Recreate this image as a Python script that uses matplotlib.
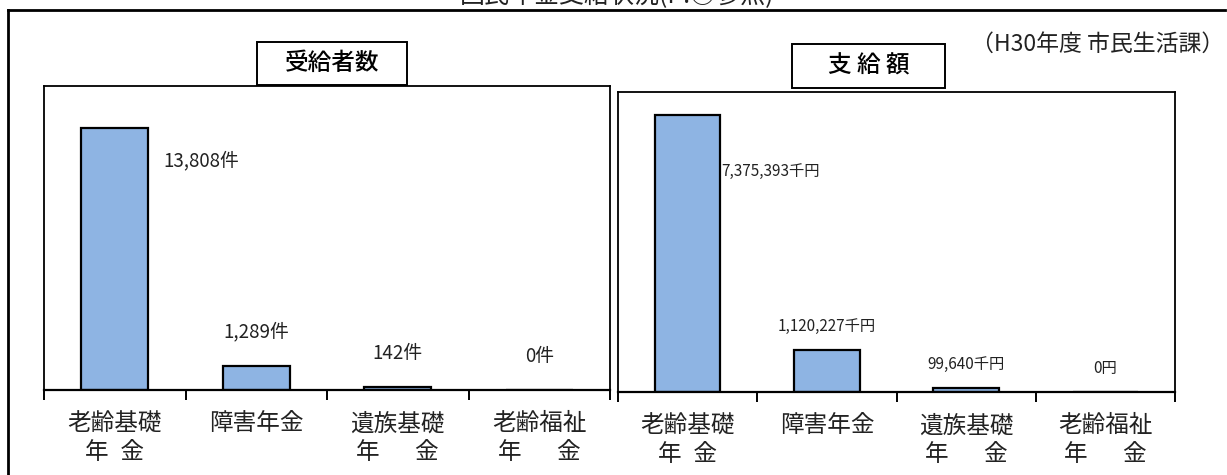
import matplotlib
matplotlib.use("Agg")
import matplotlib.pyplot as plt
from matplotlib.patches import Rectangle
from matplotlib.lines import Line2D

plt.rcParams['font.family'] = ['Noto Sans CJK JP', 'DejaVu Sans']

categories = ["老齢基礎\n年\u2002金", "障害年金", "遺族基礎\n年　\u2002金", "老齢福祉\n年　\u2002金"]
recipients = [13808, 1289, 142, 0]
recipient_labels = ["13,808件", "1,289件", "142件", "0件"]
amounts = [7375393, 1120227, 99640, 0]
amount_labels = ["7,375,393千円", "1,120,227千円", "99,640千円", "0円"]

W, H = 1227, 475
fig = plt.figure(figsize=(W / 100, H / 100), dpi=100)

def box(x0, y0, x1, y1):
    return [x0 / W, 1 - y1 / H, (x1 - x0) / W, (y1 - y0) / H]

bar_color = "#8EB4E3"

def setup(ax, vals, ymax):
    xs = [i + 0.5 for i in range(len(vals))]
    bars = ax.bar(xs, vals, width=0.47, color=bar_color, edgecolor="black", linewidth=1.6)
    ax.set_xlim(0, len(vals))
    ax.set_ylim(0, ymax)
    ax.set_yticks([])
    ax.set_xticks([0, 1, 2, 3, 4])
    ax.set_xticklabels([])
    ax.set_xticks(xs, minor=True)
    ax.set_xticklabels(categories, minor=True, fontsize=17, linespacing=1.3, color="#222222")
    ax.tick_params(axis='x', which='major', direction='out', length=7, width=1.4, color='black')
    ax.tick_params(axis='x', which='minor', length=0, pad=16)
    for s in ['left', 'top', 'right']:
        ax.spines[s].set_linewidth(1.3)
        ax.spines[s].set_color('black')
    ax.spines['bottom'].set_linewidth(1.6)
    return xs, bars

# Left chart
ax1 = fig.add_axes(box(44, 86, 610, 390))
xs1, _ = setup(ax1, recipients, 16000)
ax1.annotate(recipient_labels[0], xy=(xs1[0] + 0.235, recipients[0]), xytext=(11, -24),
             textcoords='offset points', ha='left', va='center', fontsize=13.5, color='#222222')
for i in range(1, 4):
    ax1.annotate(recipient_labels[i], xy=(xs1[i], recipients[i]), xytext=(0, 24),
                 textcoords='offset points', ha='center', va='center', fontsize=13.5, color='#222222')

# Right chart
ax2 = fig.add_axes(box(618, 92, 1175, 392))
xs2, _ = setup(ax2, amounts, 8000000)
ax2.annotate(amount_labels[0], xy=(xs2[0] + 0.235, amounts[0]), xytext=(1, -40),
             textcoords='offset points', ha='left', va='center', fontsize=11, color='#222222')
for i in range(1, 4):
    ax2.annotate(amount_labels[i], xy=(xs2[i], amounts[i]), xytext=(0, 17),
                 textcoords='offset points', ha='center', va='center', fontsize=11, color='#222222')

# Title boxes
def title_box(x0, y0, x1, y1, text, fs):
    fig.patches.append(Rectangle((x0 / W, 1 - y1 / H), (x1 - x0) / W, (y1 - y0) / H,
                                 transform=fig.transFigure, facecolor='white',
                                 edgecolor='black', linewidth=1.4, zorder=5))
    fig.text((x0 + x1) / 2 / W, 1 - (y0 + y1) / 2 / H, text, ha='center', va='center',
             fontsize=fs, fontweight='medium', zorder=6)

title_box(257, 42, 407, 85, "受給者数", 17)
title_box(792, 44, 945, 88, "支 給 額", 17)

# Source note
fig.text(1224 / W, 1 - 44 / H, "（H30年度 市民生活課）", ha='right', va='center', fontsize=16.5, color='#222222')

# Outer frame
fig.add_artist(Line2D([8 / W, 8 / W], [1 - 10 / H, 0], transform=fig.transFigure, color='black', linewidth=2))
fig.add_artist(Line2D([8 / W, 1225 / W], [1 - 10 / H, 1 - 10 / H], transform=fig.transFigure, color='black', linewidth=2))

# Heading at the top, mostly cut off by the page edge as in the reference
fig.text(617 / W, 1 - (-4) / H, "国民年金支給状況(P.○参照)", ha='center', va='center', fontsize=18, color='#222222')

fig.savefig("out.png", dpi=100)
